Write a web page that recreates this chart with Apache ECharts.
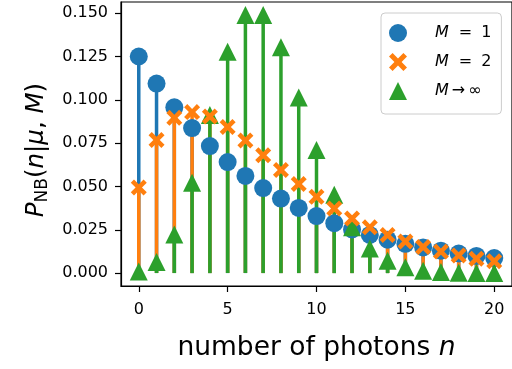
<!DOCTYPE html>
<html>
<head>
<meta charset="utf-8">
<script src="https://cdn.jsdelivr.net/npm/echarts@6/dist/echarts.min.js"></script>
<style>html,body{margin:0;padding:0;background:#fff}#c{width:512px;height:369px}</style>
</head>
<body>
<div id="c"></div>
<script>
const photons = [0,1,2,3,4,5,6,7,8,9,10,11,12,13,14,15,16,17,18,19,20];
const probM1 = [0.1250,0.1094,0.0957,0.0837,0.0733,0.0641,0.0561,0.0491,0.0430,0.0376,0.0329,0.0288,0.0252,0.0220,0.0193,0.0169,0.0148,0.0129,0.0113,0.0099,0.0087];
const probM2 = [0.0494,0.0768,0.0896,0.0929,0.0904,0.0843,0.0765,0.0680,0.0595,0.0514,0.0440,0.0373,0.0315,0.0264,0.0220,0.0182,0.0151,0.0124,0.0102,0.0083,0.0068];
const probMinf = [0.0009,0.0064,0.0223,0.0521,0.0912,0.1277,0.1490,0.1490,0.1304,0.1014,0.0710,0.0452,0.0264,0.0142,0.0071,0.0033,0.0014,0.0006,0.0002,0.0001,0.0000];
const xTickValues = [0,5,10,15,20];
const yTickValues = [0,0.025,0.05,0.075,0.1,0.125,0.15];
const seriesNames = ['M=1','M=2','M→∞'];

const C0='#1f77b4', C1='#ff7f0e', C2='#2ca02c';
const FONT='DejaVu Sans';
const xPath='path://M2,0L5,3L8,0L10,2L7,5L10,8L8,10L5,7L2,10L0,8L3,5L0,2Z';

function pairs(ys){ return photons.map((n,i)=>[n, ys[i]]); }
function stem(name, ys, color){
  return {
    type:'custom', name:name, data:pairs(ys), encode:{x:0,y:1}, silent:true,
    renderItem:function(params, api){
      const x=api.value(0), y=api.value(1);
      const p0=api.coord([x,0]), p1=api.coord([x,y]);
      return {type:'line', shape:{x1:p0[0],y1:p0[1],x2:p1[0],y2:p1[1]}, style:{stroke:color, lineWidth:3.5}};
    }
  };
}
function marks(name, ys, color, symbol, size){
  return {type:'scatter', name:name, data:pairs(ys), symbol:symbol, symbolSize:size,
    itemStyle:{color:color, opacity:1}, silent:true};
}

const chart = echarts.init(document.getElementById('c'), null, {renderer:'canvas'});
chart.setOption({
  animation:false,
  backgroundColor:'#fff',
  grid:{left:121, top:2, width:393, height:284, show:true, borderColor:'#000', borderWidth:1.2, backgroundColor:'transparent'},
  xAxis:{type:'value', min:-1, max:21,
    name:'number of photons {i|n}', nameLocation:'middle', nameGap:49,
    nameTextStyle:{fontFamily:FONT, fontSize:26.5, color:'#000', rich:{i:{fontFamily:FONT, fontSize:26.5, fontStyle:'italic', color:'#000'}}},
    axisLine:{show:true, onZero:false, lineStyle:{color:'#000', width:1.2}},
    axisTick:{show:true, length:6, lineStyle:{color:'#000', width:1.2}, customValues:xTickValues},
    axisLabel:{fontFamily:FONT, fontSize:16, color:'#000', margin:16, customValues:xTickValues},
    splitLine:{show:false}},
  yAxis:{type:'value', min:-0.00745, max:0.15645,
    name:'{i|P}{s|NB}{r|(}{i|n}{r||}{i|μ}{r|, }{i|M}{r|)}', nameLocation:'middle', nameGap:70, nameRotate:90,
    nameTextStyle:{fontFamily:FONT, fontSize:24, color:'#000', padding:[0,12,0,0], rich:{
      i:{fontFamily:FONT, fontSize:24.5, fontStyle:'italic', color:'#000', lineHeight:28},
      r:{fontFamily:FONT, fontSize:24.5, color:'#000', lineHeight:28},
      s:{fontFamily:FONT, fontSize:17, color:'#000', lineHeight:14, verticalAlign:'bottom'}}},
    axisLine:{show:true, onZero:false, lineStyle:{color:'#000', width:1.2}},
    axisTick:{show:true, length:6, lineStyle:{color:'#000', width:1.2}, customValues:yTickValues},
    axisLabel:{fontFamily:FONT, fontSize:16, color:'#000', margin:13, customValues:yTickValues,
      formatter:function(v){return v.toFixed(3);}},
    splitLine:{show:false}},
  legend:{data:seriesNames, orient:'vertical', left:381, top:13,
    padding:[11,10,14,8], itemGap:11, itemWidth:18, itemHeight:18,
    borderColor:'#cccccc', borderWidth:1, borderRadius:4, backgroundColor:'rgba(255,255,255,0.8)',
    formatter:function(name){
      if(name==='M=1') return '{i|M}{e|=}{r|1}';
      if(name==='M=2') return '{i|M}{e|=}{r|2}';
      return '{i|M}{a|→}{r|∞}';
    },
    textStyle:{fontFamily:FONT, fontSize:16, color:'#000', padding:[0,0,0,23],
      rich:{i:{fontFamily:FONT, fontSize:16, fontStyle:'italic', color:'#000'},
            r:{fontFamily:FONT, fontSize:16, color:'#000'},
            e:{fontFamily:FONT, fontSize:16, color:'#000', padding:[0,9,0,10]},
            a:{fontFamily:FONT, fontSize:16, color:'#000', padding:[0,3,0,3]}}}},
  series:[
    stem('s1', probM1, C0),
    marks('M=1', probM1, C0, 'circle', 18),
    marks('M→∞', probMinf, C2, 'triangle', 18),
    stem('s2', probM2, C1),
    stem('s3', probMinf, C2),
    marks('M=2', probM2, C1, xPath, 16)
  ]
});
</script>
</body>
</html>
